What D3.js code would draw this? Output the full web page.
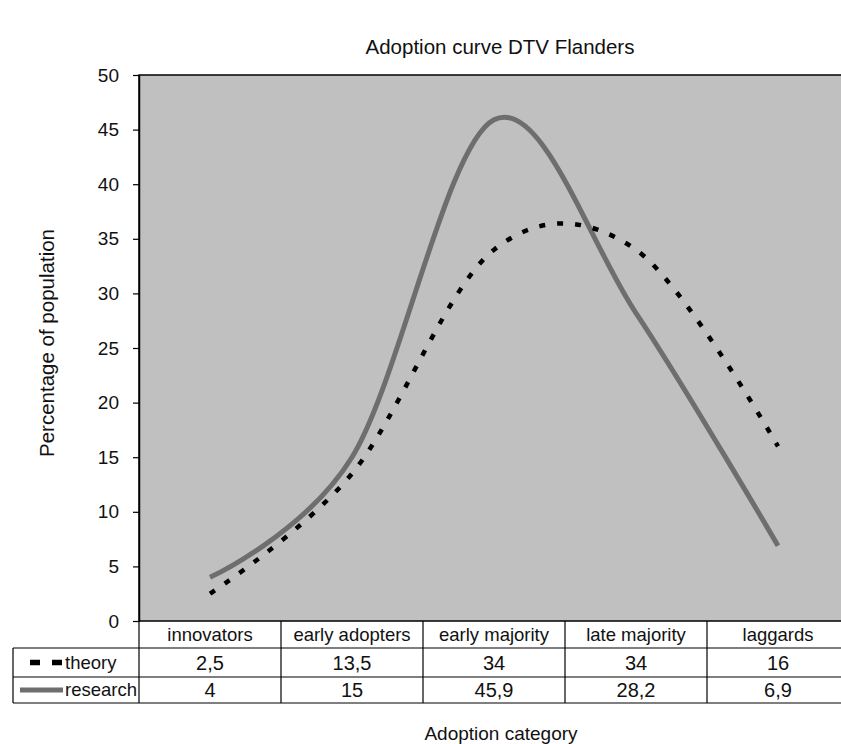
<!DOCTYPE html>
<html>
<head>
<meta charset="utf-8">
<script src="https://cdn.jsdelivr.net/npm/d3@7"></script>
<style>
  body { margin: 0; background: #fff; }
  svg { display: block; font-family: "Liberation Sans", Arial, Helvetica, sans-serif; }
</style>
</head>
<body>
<svg id="chart" width="841" height="744"></svg>
<script>
var categories = ["innovators", "early adopters", "early majority", "late majority", "laggards"];
var theory = [2.5, 13.5, 34, 34, 16];
var research = [4, 15, 45.9, 28.2, 6.9];
var yTicks = [0, 5, 10, 15, 20, 25, 30, 35, 40, 45, 50];

var svg = d3.select("#chart");
var plotL = 139, plotR = 849, plotT = 75, plotB = 621;
var rowH = [648, 677, 703];

var x = d3.scaleBand().domain(categories).range([plotL, plotR]);
var y = d3.scaleLinear().domain([0, 50]).range([plotB, plotT]);

// plot area
svg.append("rect").attr("x", plotL).attr("y", plotT)
  .attr("width", plotR - plotL).attr("height", plotB - plotT)
  .attr("fill", "#c0c0c0").attr("stroke", "#000").attr("stroke-width", 1.5);

// y axis
var yAxis = svg.append("g").attr("transform", "translate(" + plotL + ",0)")
  .call(d3.axisLeft(y).tickValues(yTicks).tickSize(6).tickSizeOuter(0).tickPadding(14));
yAxis.select(".domain").attr("stroke-width", 1.5);
yAxis.selectAll("line").attr("stroke-width", 1.2);
yAxis.selectAll("text").attr("font-size", 19).attr("fill", "#111")
  .attr("font-family", "Liberation Sans, Arial, sans-serif");

// curves
var line = function(vals) {
  return d3.line()
    .x(function(d, i){ return x(categories[i]) + x.bandwidth() / 2; })
    .y(function(d){ return y(d); })
    .curve(d3.curveCardinal.tension(0))(vals);
};
svg.append("path").attr("d", line(research)).attr("fill", "none")
  .attr("stroke", "#6e6e6e").attr("stroke-width", 5);
svg.append("path").attr("d", line(theory)).attr("fill", "none")
  .attr("stroke", "#000").attr("stroke-width", 4.5).attr("stroke-dasharray", "6,12");

// data table
var grid = svg.append("g").attr("stroke", "#000").attr("stroke-width", 1.2);
categories.forEach(function(c){
  grid.append("line").attr("x1", x(c)).attr("x2", x(c)).attr("y1", plotB).attr("y2", rowH[2]);
});
grid.append("line").attr("x1", 13).attr("x2", 13).attr("y1", rowH[0]).attr("y2", rowH[2]);
rowH.forEach(function(r){
  grid.append("line").attr("x1", 13).attr("x2", 841).attr("y1", r).attr("y2", r);
});

var fmt = function(v){ return String(v).replace(".", ","); };
svg.selectAll(".cat").data(categories).enter().append("text")
  .attr("x", function(d){ return x(d) + x.bandwidth() / 2; })
  .attr("y", (plotB + rowH[0]) / 2 + 6)
  .attr("text-anchor", "middle").attr("font-size", 18.5).attr("fill", "#111")
  .text(function(d){ return d; });

[theory, research].forEach(function(vals, r){
  svg.selectAll(".v" + r).data(vals).enter().append("text")
    .attr("x", function(d, i){ return x(categories[i]) + x.bandwidth() / 2; })
    .attr("y", (rowH[r] + rowH[r + 1]) / 2 + 7)
    .attr("text-anchor", "middle").attr("font-size", 20).attr("fill", "#111")
    .text(fmt);
});

// legend keys in table
var ty = (rowH[0] + rowH[1]) / 2;
svg.append("line").attr("x1", 30).attr("x2", 63).attr("y1", ty).attr("y2", ty)
  .attr("stroke", "#000").attr("stroke-width", 5.5).attr("stroke-dasharray", "10,12");
svg.append("text").attr("x", 65).attr("y", ty + 6).attr("font-size", 18.5).attr("fill", "#111").text("theory");
var ry = (rowH[1] + rowH[2]) / 2;
svg.append("line").attr("x1", 20).attr("x2", 63).attr("y1", ry).attr("y2", ry)
  .attr("stroke", "#6e6e6e").attr("stroke-width", 5);
svg.append("text").attr("x", 65).attr("y", ry + 6).attr("font-size", 18.5).attr("fill", "#111").text("research");

// titles
svg.append("text").attr("x", 500).attr("y", 54).attr("text-anchor", "middle")
  .attr("font-size", 20.5).attr("fill", "#111").text("Adoption curve DTV Flanders");
svg.append("text").attr("x", 501).attr("y", 740).attr("text-anchor", "middle")
  .attr("font-size", 19).attr("fill", "#111").text("Adoption category");
svg.append("text").attr("transform", "translate(54,343) rotate(-90)").attr("text-anchor", "middle")
  .attr("font-size", 20.5).attr("fill", "#111").text("Percentage of population");
</script>
</body>
</html>
